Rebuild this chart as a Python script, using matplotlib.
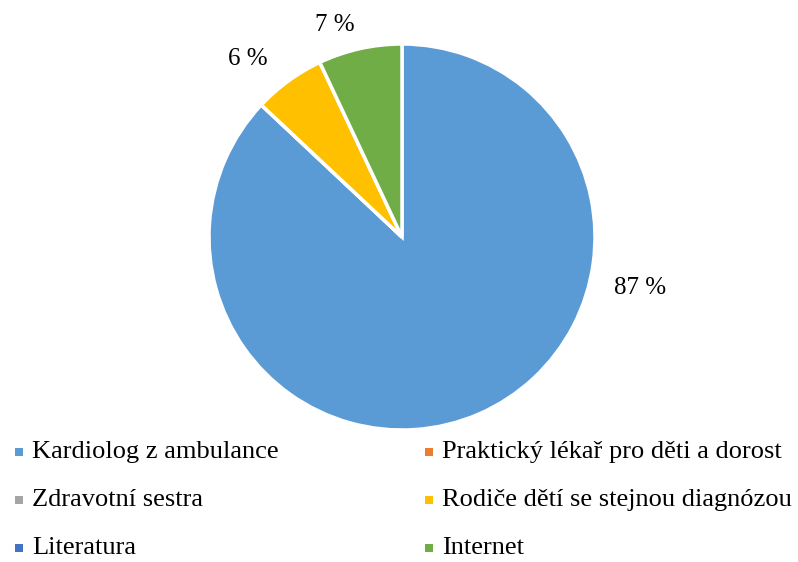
import matplotlib.pyplot as plt
import numpy as np
from matplotlib.patches import Rectangle

# data
categories = ['Kardiolog z ambulance', 'Praktický lékař pro děti a dorost',
              'Zdravotní sestra', 'Rodiče dětí se stejnou diagnózou',
              'Literatura', 'Internet']
values = [87, 0, 0, 6, 0, 7]
colors = ['#5B9BD5', '#ED7D31', '#A5A5A5', '#FFC000', '#4472C4', '#70AD47']
# label offsets (radius factor, angle shift in degrees) for shown labels
label_pos = {0: (1.26, None), 3: (1.22, 5), 5: (1.15, 5)}

plt.rcParams['font.family'] = ['Liberation Serif', 'DejaVu Serif']

W, H = 798, 562
fig = plt.figure(figsize=(W / 100, H / 100), dpi=100)
cx, cy, r = 402, 237, 193
ax = fig.add_axes([(cx - r) / W, (H - cy - r) / H, 2 * r / W, 2 * r / H])
ax.axis('off')

wedges, _ = ax.pie(values, colors=colors, startangle=90, counterclock=False,
                   radius=1, wedgeprops=dict(edgecolor='white', linewidth=2.5))
ax.set_xlim(-1, 1)
ax.set_ylim(-1, 1)

for i, w in enumerate(wedges):
    if values[i] == 0:
        continue
    dist, shift = label_pos[i]
    if shift is None:
        ang = np.deg2rad(-12)  # best-fit position on the right side
    else:
        ang = np.deg2rad((w.theta1 + w.theta2) / 2 + shift)
    ax.text(dist * np.cos(ang), dist * np.sin(ang), f'{values[i]} %',
            ha='center', va='center', fontsize=18)

# legend
col_x = [15, 425]
row_y = [452, 500, 548]
for i, (lab, col) in enumerate(zip(categories, colors)):
    x = col_x[i % 2]
    y = row_y[i // 2]
    fig.patches.append(Rectangle((x / W, (H - y - 4) / H), 8 / W, 8 / H,
                                 facecolor=col, transform=fig.transFigure))
    fig.text((x + 17) / W, (H - y) / H, lab, fontsize=19, va='center', ha='left')

fig.savefig('out.png', dpi=100)
